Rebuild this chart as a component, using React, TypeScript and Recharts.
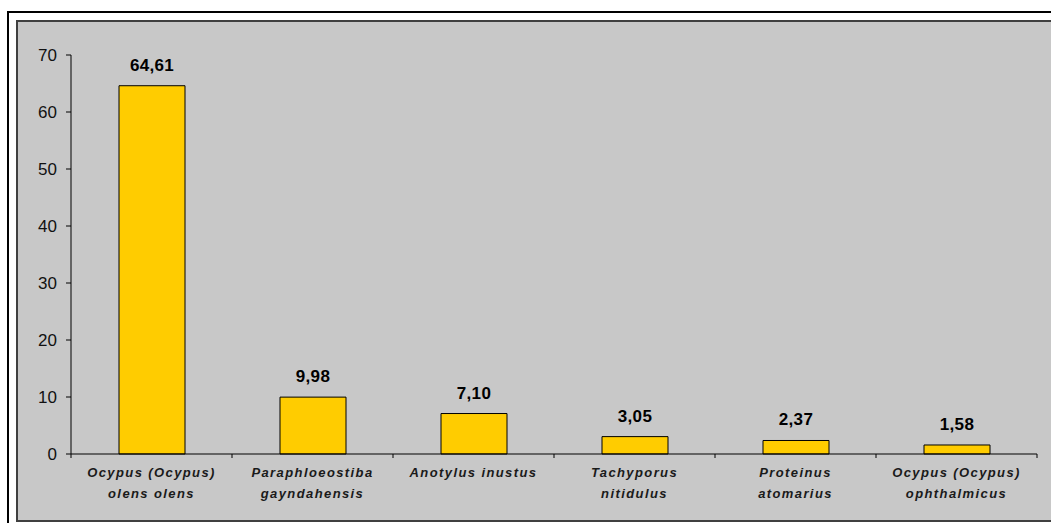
import { BarChart, Bar, XAxis, YAxis, LabelList } from 'recharts';

// species names, "\n" marks the line break used under the axis
const species = [
    'Ocypus (Ocypus)\nolens olens',
    'Paraphloeostiba\ngayndahensis',
    'Anotylus inustus',
    'Tachyporus\nnitidulus',
    'Proteinus\natomarius',
    'Ocypus (Ocypus)\nophthalmicus',
];
const shares = [64.61, 9.98, 7.1, 3.05, 2.37, 1.58];
const yTicks = [0, 10, 20, 30, 40, 50, 60, 70];

const data = species.map((name, i) => ({ name, value: shares[i] }));

const W = 1051;
const H = 523;
const PLOT_LEFT = 71;
const PLOT_RIGHT = 1037;
const BAND = (PLOT_RIGHT - PLOT_LEFT) / species.length;
const FONT = "Arial, 'Liberation Sans', sans-serif";

const fmt = (v: number) => v.toFixed(2).replace('.', ',');

const SpeciesTick = (props: any) => {
    const { x, y, payload, index } = props;
    const lines = String(payload.value).split('\n');
    const left = x - BAND / 2;
    return (
        <g>
            <line x1={left} y1={y} x2={left} y2={y + 4} stroke="#000" />
            {index === species.length - 1 && (
                <line x1={left + BAND} y1={y} x2={left + BAND} y2={y + 4} stroke="#000" />
            )}
            {lines.map((t, i) => (
                <text
                    key={i}
                    x={x}
                    y={y + 23 + i * 21}
                    textAnchor="middle"
                    fontFamily={FONT}
                    fontSize={13}
                    fontWeight="bold"
                    fontStyle="italic"
                    letterSpacing={1.4}
                    fill="#1a1a1a"
                >
                    {t}
                </text>
            ))}
        </g>
    );
};

export default function App() {
    return (
        <div style={{ position: 'absolute', left: 0, top: 0, width: W, height: H, background: '#fff' }}>
            {/* outer frame and grey chart area, like the spreadsheet export */}
            <div style={{ position: 'absolute', left: 7, top: 11, width: W, height: H, border: '2px solid #000', boxSizing: 'border-box' }} />
            <div style={{ position: 'absolute', left: 16, top: 20, width: W - 16, height: 502, background: '#c8c8c8', borderTop: '2px solid #404040', borderLeft: '2px solid #404040', borderBottom: '2px solid #404040', boxSizing: 'border-box' }} />
            <div style={{ position: 'absolute', left: 0, top: 0 }}>
                <BarChart
                    width={W}
                    height={H}
                    data={data}
                    barSize={66}
                    margin={{ top: 55, right: W - PLOT_RIGHT, left: PLOT_LEFT - 60, bottom: 9 }}
                >
                    <XAxis
                        dataKey="name"
                        height={60}
                        interval={0}
                        tickSize={0}
                        tickMargin={0}
                        tickLine={false}
                        axisLine={{ stroke: '#000' }}
                        tick={<SpeciesTick />}
                    />
                    <YAxis
                        width={60}
                        domain={[0, 70]}
                        ticks={yTicks}
                        interval={0}
                        tickSize={5}
                        tickMargin={9}
                        axisLine={{ stroke: '#000' }}
                        tickLine={{ stroke: '#000' }}
                        tick={{ fill: '#111', fontSize: 17, fontFamily: FONT }}
                    />
                    <Bar dataKey="value" fill="#ffcc00" stroke="#000" strokeWidth={1} isAnimationActive={false}>
                        <LabelList
                            dataKey="value"
                            position="top"
                            offset={15}
                            formatter={(v: any) => fmt(Number(v))}
                            style={{ fontFamily: FONT, fontSize: 17, fontWeight: 'bold', letterSpacing: 0.3, fill: '#000' }}
                        />
                    </Bar>
                </BarChart>
            </div>
        </div>
    );
}
